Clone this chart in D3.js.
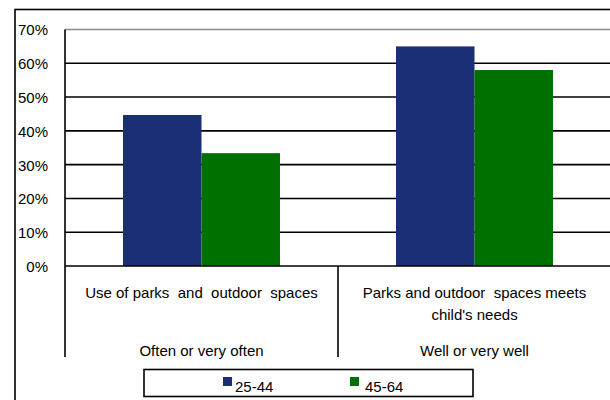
<!DOCTYPE html>
<html><head><meta charset="utf-8">
<script src="https://cdn.jsdelivr.net/npm/d3@7"></script>
<style>
html,body{margin:0;padding:0;background:#fff;}
svg{display:block;font-family:"Liberation Sans",Arial,sans-serif;}
</style></head>
<body>
<svg id="c" width="610" height="400"></svg>
<script>
const groups = ["Often or very often", "Well or very well"];
const categoryLines = [["Use of parks  and  outdoor  spaces"], ["Parks and outdoor  spaces meets", "child's needs"]];
const series = ["25-44", "45-64"];
const values25_44 = [44.7, 65.0];
const values45_64 = [33.4, 58.0];
const colors = ["#1b2f77", "#007100"];
const yTicks = [0, 10, 20, 30, 40, 50, 60, 70];

const svg = d3.select("#c");
const pL = 65, pR = 611, pT = 29.5, pB = 266;

const x0 = d3.scaleBand().domain(groups).range([pL, pR]).padding(0);
const x1 = d3.scaleBand().domain(series).range([0, x0.bandwidth()]).paddingInner(0).paddingOuter(0.739);
const y = d3.scaleLinear().domain([0, 70]).range([pB, pT]);

// outer frame
svg.append("rect").attr("x", 15).attr("y", 9.5).attr("width", 640).attr("height", 440)
  .attr("fill", "none").attr("stroke", "#000").attr("stroke-width", 1.6);

// gridlines
svg.append("g").selectAll("line").data(yTicks.filter(d => d > 0)).join("line")
  .attr("x1", pL).attr("x2", pR + 5)
  .attr("y1", d => y(d)).attr("y2", d => y(d))
  .attr("stroke", d => d === 70 ? "#8a8a8a" : "#000").attr("stroke-width", 1.6);

// y labels
svg.append("g").selectAll("text").data(yTicks).join("text")
  .attr("x", 48).attr("y", d => y(d) + 2)
  .attr("text-anchor", "end").attr("dominant-baseline", "middle")
  .attr("font-size", 15).attr("fill", "#000")
  .text(d => d + "%");

// bars
const data = groups.map((g, i) => ({group: g, vals: [values25_44[i], values45_64[i]]}));
const gg = svg.append("g").selectAll("g").data(data).join("g")
  .attr("transform", d => `translate(${x0(d.group)},0)`);
gg.selectAll("rect").data(d => d.vals.map((v, j) => ({s: series[j], v, j}))).join("rect")
  .attr("x", d => x1(d.s)).attr("width", x1.bandwidth())
  .attr("y", d => y(d.v)).attr("height", d => y(0) - y(d.v))
  .attr("fill", d => colors[d.j]);

// axes
svg.append("line").attr("x1", pL).attr("x2", pL).attr("y1", pT).attr("y2", 357)
  .attr("stroke", "#000").attr("stroke-width", 1.6);
svg.append("line").attr("x1", pL).attr("x2", pR + 5).attr("y1", pB).attr("y2", pB)
  .attr("stroke", "#000").attr("stroke-width", 1.6);
svg.append("g").selectAll("line").data(groups.slice(1)).join("line")
  .attr("x1", d => x0(d)).attr("x2", d => x0(d)).attr("y1", pB).attr("y2", 357)
  .attr("stroke", "#000").attr("stroke-width", 1.6);

// category labels
groups.forEach((g, i) => {
  const cx = x0(g) + x0.bandwidth() / 2;
  categoryLines[i].forEach((ln, k) => {
    svg.append("text").attr("x", cx).attr("y", 298 + k * 21.5)
      .attr("text-anchor", "middle").attr("font-size", 15).attr("fill", "#000")
      .style("white-space", "pre").text(ln);
  });
  svg.append("text").attr("x", cx).attr("y", 356)
    .attr("text-anchor", "middle").attr("font-size", 15).attr("fill", "#000").text(g);
});

// legend
svg.append("rect").attr("x", 144).attr("y", 369.5).attr("width", 329).attr("height", 27)
  .attr("fill", "#fff").attr("stroke", "#000").attr("stroke-width", 1.6);
const legX = [223, 350];
series.forEach((s, i) => {
  svg.append("rect").attr("x", legX[i]).attr("y", 377).attr("width", 9).attr("height", 9).attr("fill", colors[i]);
  svg.append("text").attr("x", legX[i] + 12 + (i ? 3 : 0)).attr("y", 392).attr("font-size", 15).attr("fill", "#000").text(s);
});
</script>
</body></html>
